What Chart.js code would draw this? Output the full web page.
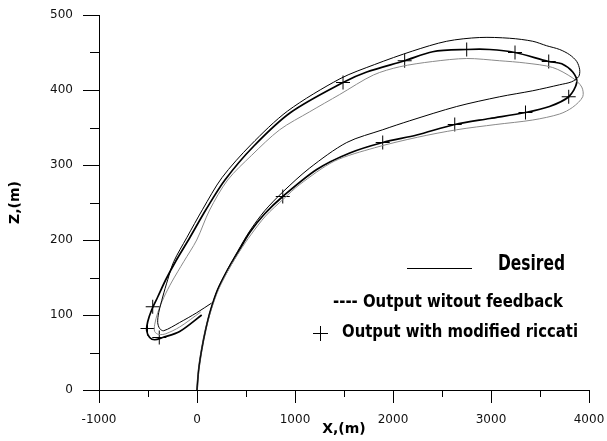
<!DOCTYPE html>
<html>
<head>
<meta charset="utf-8">
<script src="https://cdn.jsdelivr.net/npm/chart.js@4.4.0/dist/chart.umd.min.js"></script>
<style>
  html, body { margin: 0; padding: 0; background: #fff; }
  #traj { display: block; }
</style>
</head>
<body>
<canvas id="traj" width="607" height="441"></canvas>
<script>
// trajectories, x and z in metres
const desiredX = [0, 17, 48, 89, 140, 211, 303, 415, 538, 691, 875, 1150, 1528, 1895, 2171, 2650, 3089, 3426, 3701, 3824, 3895,
  3905, 3875, 3803, 3701, 3568, 3426, 3191, 2885, 2548, 2201, 1813, 1459, 925, 550, 254, 58, -105, -238, -299, -350, -391, -401, -381, -340, -177, -3, 150];
const desiredZ = [0, 27, 54, 81, 107, 134, 159, 185, 212, 239, 264, 296, 330, 347, 359, 378, 391, 399, 407, 411, 418,
  427, 438, 447, 454, 459, 465, 469, 470, 465, 452, 434, 415, 372, 327, 283, 241, 203, 171, 147, 124, 103, 90, 82, 79, 90, 103, 116];

const noFeedbackX = [0, 17, 48, 89, 145, 220, 320, 435, 550, 700, 885, 1048, 1400, 1813, 2250, 2650, 3050, 3426, 3700, 3834, 3936, 3926,
  3834, 3630, 3350, 3089, 2752, 2405, 2069, 1800, 1456, 1150, 844, 558, 313, 129, -3, -136, -258, -340, -401, -432, -432, -391, -319, -177, 38];
const noFeedbackZ = [0, 27, 54, 81, 107, 134, 160, 185, 207, 232, 255, 274, 305, 323, 337, 347, 354, 360, 368, 377, 391, 404,
  416, 430, 436, 439, 442, 438, 431, 420, 394, 371, 347, 313, 280, 240, 200, 171, 144, 123, 103, 87, 78, 74, 75, 84, 104];

const riccatiX = [0, 17, 48, 89, 140, 211, 313, 425, 538, 691, 875, 1222, 1559, 1895, 2242, 2630, 2987, 3352, 3597, 3793, 3875,
  3834, 3722, 3589, 3245, 2987, 2752, 2405, 2119, 1732, 1490, 955, 578, 285, 89, -74, -207, -319, -401, -462, -503, -513, -483, -432, -350, -177, 48];
const riccatiZ = [0, 27, 54, 81, 107, 134, 160, 185, 210, 235, 258, 294, 316, 330, 340, 354, 362, 370, 378, 391, 410,
  424, 435, 438, 450, 454, 454, 451, 439, 424, 410, 370, 325, 280, 240, 203, 174, 147, 124, 107, 91, 79, 70, 67, 70, 78, 100];

// "+" markers on the riccati output
const markX = [875, 1895, 2630, 3352, 3793, 3589, 3245, 2752, 2119, 1490, -452, -505, -385];
const markZ = [258, 330, 354, 370, 391, 438, 450, 454, 439, 410, 111, 82, 70];

const xTicks = [-1000, 0, 1000, 2000, 3000, 4000];
const zTicks = [0, 100, 200, 300, 400, 500];

const FONT = '"DejaVu Sans", sans-serif';
const NARROW = '"Liberation Sans Narrow", "DejaVu Sans Condensed", "Liberation Sans", sans-serif';

function pts(xs, zs) { return xs.map((x, i) => ({ x, y: zs[i] })); }

function midpoints(arr) {
  const out = [];
  for (let i = 0; i < arr.length - 1; i++) out.push((arr[i] + arr[i + 1]) / 2);
  return out;
}

// stretch text to the width it has in the figure
function fitText(ctx, text, x0, x1, cy, font) {
  ctx.font = font;
  const w = ctx.measureText(text).width;
  ctx.save();
  ctx.translate(x0, cy);
  ctx.scale((x1 - x0) / w, 1);
  ctx.textAlign = "left";
  ctx.textBaseline = "middle";
  ctx.fillText(text, 0, 0);
  ctx.restore();
}

// no label overflow padding, the plot area is set by layout.padding
function fixPadding(s) {
  s.paddingTop = 0; s.paddingBottom = 0; s.paddingLeft = 0; s.paddingRight = 0;
}

// outward tick marks, long on labelled values, short in between
const tickMarks = {
  id: "tickMarks",
  afterDraw(chart) {
    const { ctx, scales: { x, y }, chartArea: a } = chart;
    ctx.save();
    ctx.strokeStyle = "#000";
    ctx.lineWidth = 1;
    ctx.beginPath();
    xTicks.forEach(v => { const px = Math.round(x.getPixelForValue(v)) + 0.5; ctx.moveTo(px, a.bottom); ctx.lineTo(px, a.bottom + 13); });
    midpoints(xTicks).forEach(v => { const px = Math.round(x.getPixelForValue(v)) + 0.5; ctx.moveTo(px, a.bottom); ctx.lineTo(px, a.bottom + 7); });
    zTicks.forEach(v => { const py = Math.round(y.getPixelForValue(v)) + 0.5; ctx.moveTo(a.left - 16, py); ctx.lineTo(a.left, py); });
    midpoints(zTicks).forEach(v => { const py = Math.round(y.getPixelForValue(v)) + 0.5; ctx.moveTo(a.left - 9, py); ctx.lineTo(a.left, py); });
    ctx.stroke();
    ctx.restore();
  }
};

const legendBox = {
  id: "legendBox",
  afterDraw(chart) {
    const ctx = chart.ctx;
    ctx.save();
    ctx.fillStyle = "#000";
    ctx.strokeStyle = "#000";
    ctx.lineWidth = 1;
    ctx.beginPath();
    ctx.moveTo(407, 268.5); ctx.lineTo(472, 268.5);
    ctx.moveTo(313, 333.5); ctx.lineTo(328, 333.5);
    ctx.moveTo(320.5, 326); ctx.lineTo(320.5, 341);
    ctx.stroke();
    fitText(ctx, "Desired", 498, 565, 264, "bold 22px " + NARROW);
    fitText(ctx, "---- Output witout feedback", 333, 563, 303, "bold 17px " + NARROW);
    fitText(ctx, "Output with modified riccati", 342, 578, 333, "bold 17px " + NARROW);
    ctx.restore();
  }
};

new Chart(document.getElementById("traj"), {
  type: "scatter",
  data: {
    datasets: [
      { label: "Desired", data: pts(desiredX, desiredZ), showLine: true, borderColor: "#000", borderWidth: 1, pointRadius: 0, tension: 0.3, fill: false },
      { label: "Output witout feedback", data: pts(noFeedbackX, noFeedbackZ), showLine: true, borderColor: "#8a8a8a", borderWidth: 1, pointRadius: 0, tension: 0.3, fill: false },
      { label: "Output with modified riccati", data: pts(riccatiX, riccatiZ), showLine: true, borderColor: "#000", borderWidth: 1.7, pointRadius: 0, tension: 0.3, fill: false },
      { label: "markers", data: pts(markX, markZ), showLine: false, pointStyle: "cross", pointRadius: 7, borderColor: "#000", borderWidth: 1 }
    ]
  },
  options: {
    responsive: false,
    animation: false,
    layout: { autoPadding: false, padding: { top: 15, right: 18, left: 0, bottom: 0 } },
    plugins: { legend: { display: false }, tooltip: { enabled: false } },
    scales: {
      x: {
        type: "linear", min: -1000, max: 4000,
        afterBuildTicks: s => { s.ticks = xTicks.map(v => ({ value: v })); },
        afterFit: s => { s.height = 51; fixPadding(s); },
        grid: { display: true, drawOnChartArea: false, drawTicks: false },
        border: { display: true, color: "#000", width: 1 },
        ticks: { padding: 23, color: "#111", font: { family: FONT, size: 12 }, maxRotation: 0, callback: v => String(v) },
        title: { display: true, text: "X,(m)", color: "#000", font: { family: FONT, size: 14, weight: "bold" }, padding: { top: 0, bottom: 3 } }
      },
      y: {
        type: "linear", min: 0, max: 500,
        afterBuildTicks: s => { s.ticks = zTicks.map(v => ({ value: v })); },
        afterFit: s => { s.width = 99; fixPadding(s); },
        grid: { display: true, drawOnChartArea: false, drawTicks: false },
        border: { display: true, color: "#000", width: 1 },
        ticks: { padding: 26, color: "#111", font: { family: FONT, size: 12 }, callback: v => String(v) },
        title: { display: true, text: "Z,(m)", color: "#000", font: { family: FONT, size: 14, weight: "bold" }, padding: { top: 7, bottom: 0 } }
      }
    }
  },
  plugins: [tickMarks, legendBox]
});
</script>
</body>
</html>
